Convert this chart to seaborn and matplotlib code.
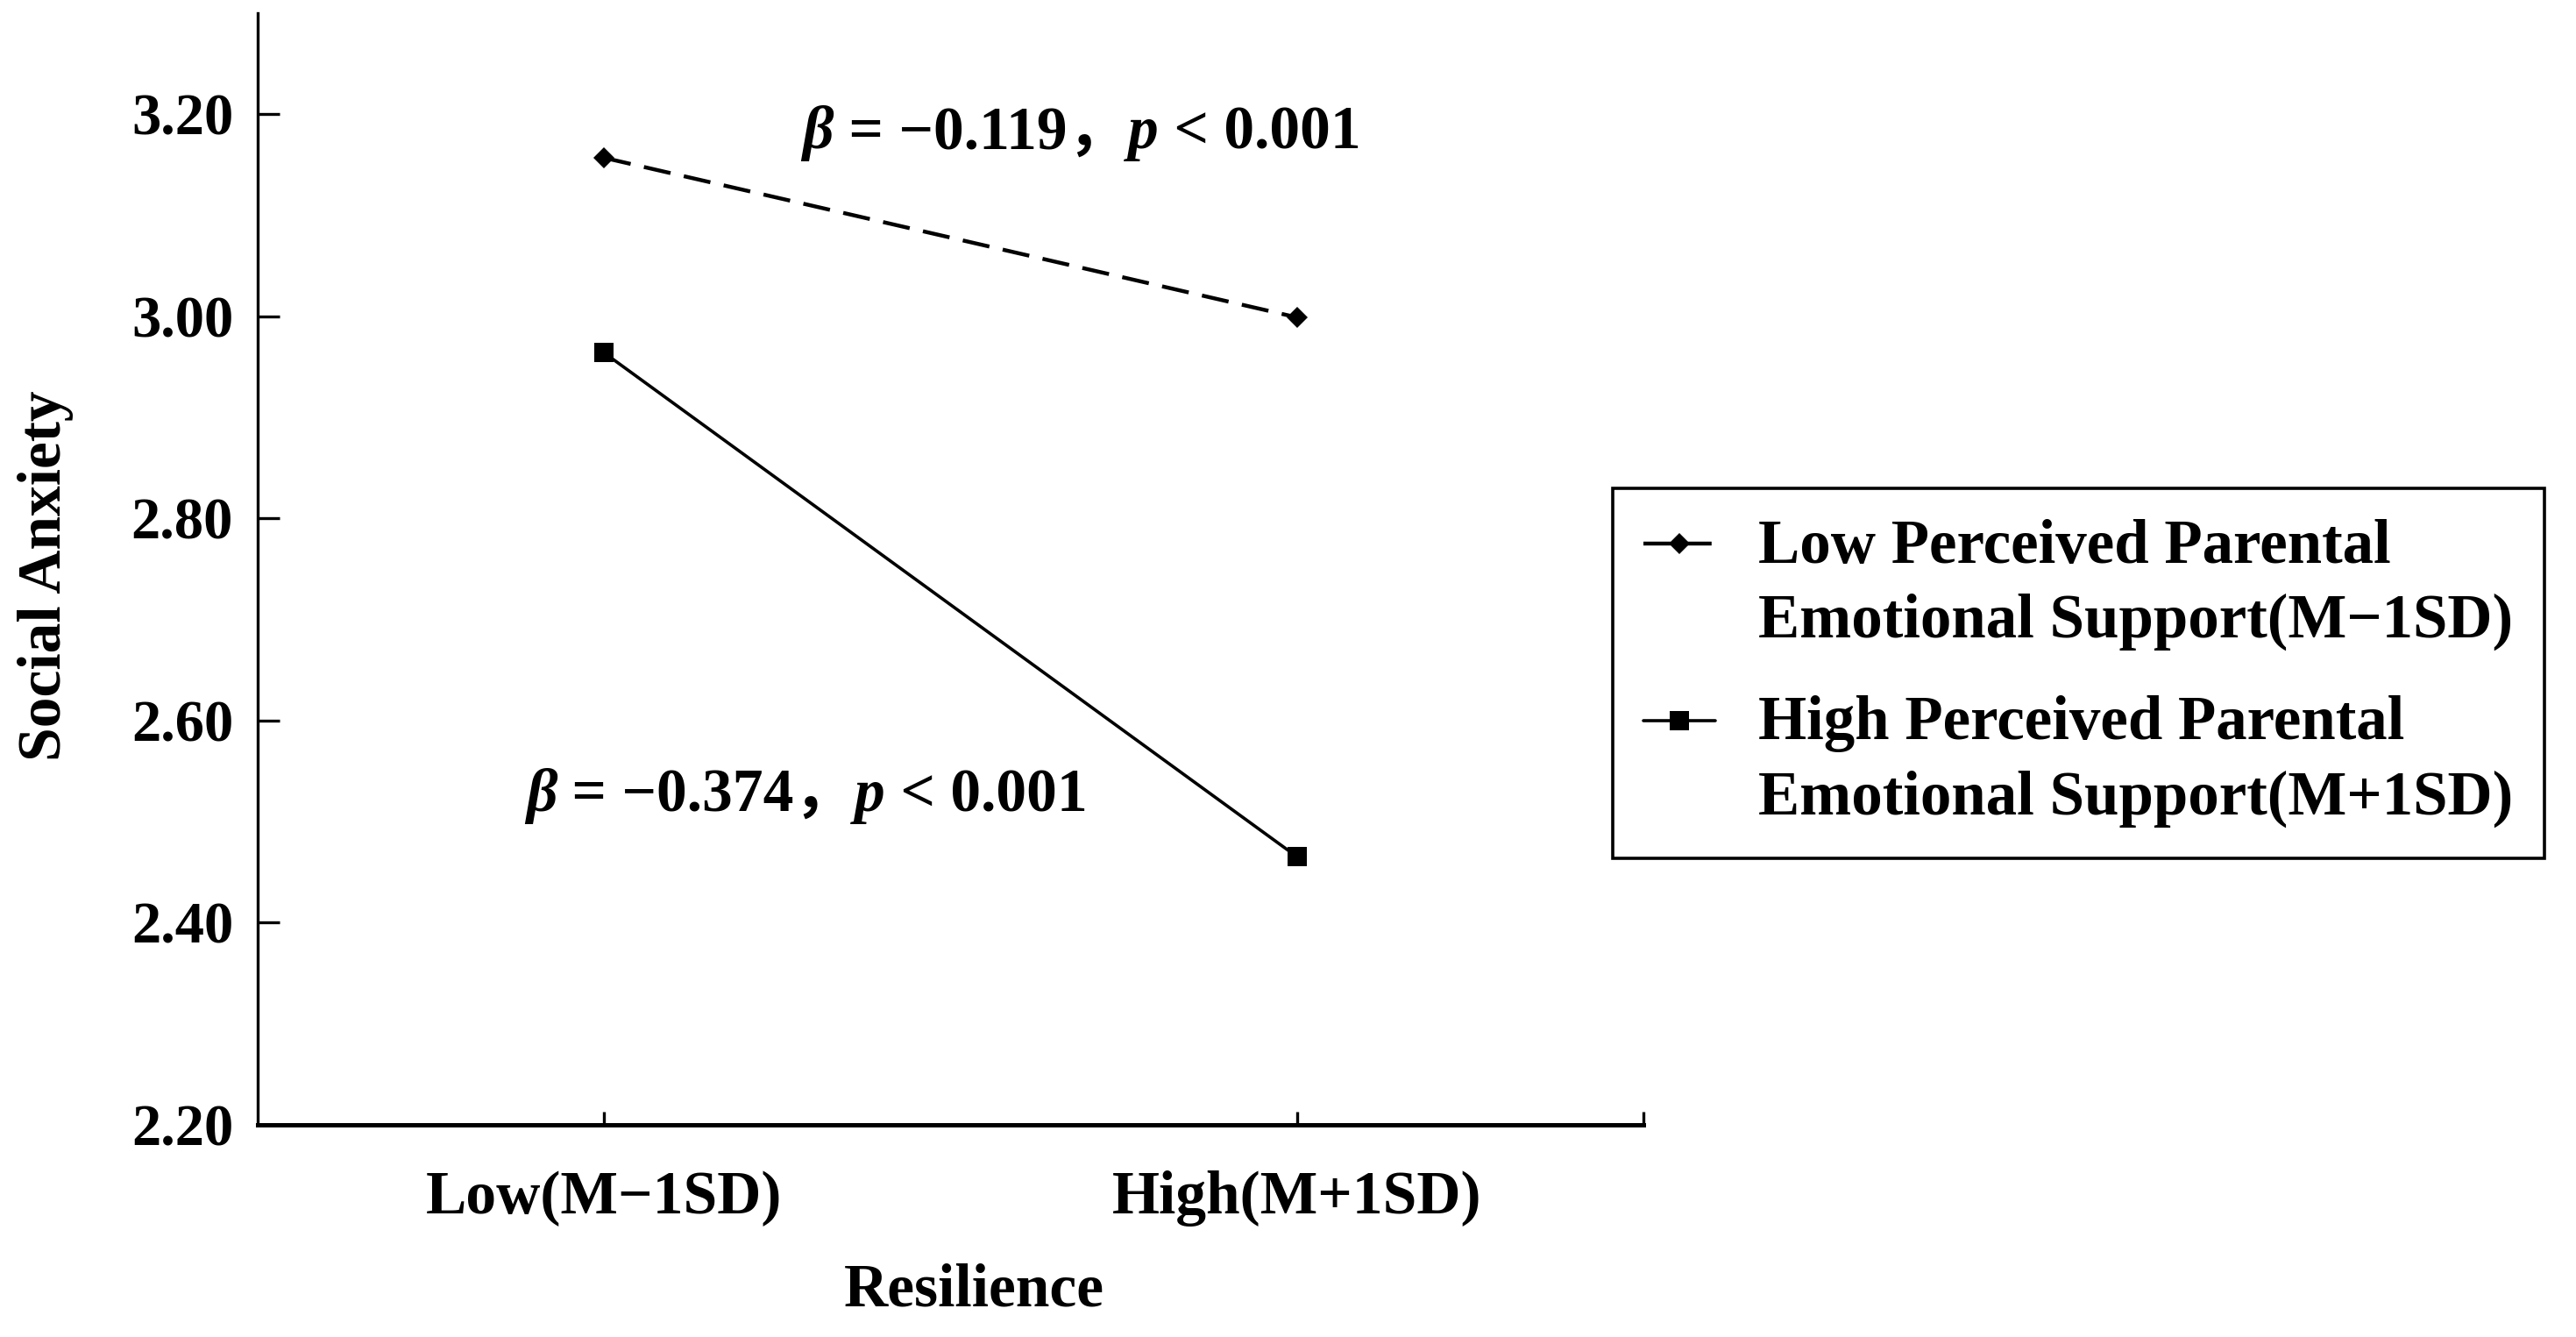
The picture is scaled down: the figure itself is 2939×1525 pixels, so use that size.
import matplotlib
matplotlib.use('Agg')
import pandas as pd
import matplotlib.pyplot as plt
import seaborn as sns
from matplotlib.offsetbox import TextArea, HPacker, AnnotationBbox
from matplotlib.legend_handler import HandlerLine2D

# data
resilience = ['Low(M−1SD)', 'High(M+1SD)']
groups = ['Low Perceived Parental\nEmotional Support(M−1SD)',
          'High Perceived Parental\nEmotional Support(M+1SD)']
low_support = [3.157, 2.999]
high_support = [2.964, 2.465]
y_ticks = [2.20, 2.40, 2.60, 2.80, 3.00, 3.20]
betas = ['−0.119', '−0.374']
p_values = ['0.001', '0.001']

df = pd.DataFrame({
    'Resilience': resilience * 2,
    'Social Anxiety': low_support + high_support,
    'Support': [groups[0]] * 2 + [groups[1]] * 2,
})

sns.set_theme(style='ticks')
plt.rcParams['font.family'] = ['Liberation Serif', 'Noto Sans CJK SC']
plt.rcParams['font.weight'] = 'bold'
for key in ['text.color', 'axes.labelcolor', 'xtick.color', 'ytick.color', 'axes.edgecolor']:
    plt.rcParams[key] = 'black'
FS = 50


class FirstLineHandler(HandlerLine2D):
    # puts the legend key next to the first line of a two-line label
    def __init__(self, shift, **kw):
        super().__init__(**kw)
        self.shift = shift

    def create_artists(self, legend, orig_handle, xdescent, ydescent,
                       width, height, fontsize, trans):
        return super().create_artists(legend, orig_handle, xdescent,
                                      ydescent - 2 * self.shift,
                                      width, height, fontsize, trans)


fig = plt.figure(figsize=(29.39, 15.25), dpi=100)
ax = fig.add_axes([0.100, 0.159, 0.538, 0.831])

sns.lineplot(data=df, x='Resilience', y='Social Anxiety', hue='Support', style='Support',
             palette={groups[0]: 'black', groups[1]: 'black'},
             markers={groups[0]: 'D', groups[1]: 's'},
             dashes={groups[0]: (7, 3.5), groups[1]: ''},
             linewidth=2.6, markeredgewidth=0, ax=ax)

for line in ax.lines:
    if line.get_marker() == 'D':
        line.set_markersize(12)
        line.set_linewidth(3.2)
    elif line.get_marker() == 's':
        line.set_markersize(16)

ax.set_xlim(-0.5, 1.5)
ax.set_ylim(2.20, 3.30)
ax.set_yticks(y_ticks)
ax.set_yticklabels([f'{v:.2f}' for v in y_ticks])
ax.set_xticks([0, 1, 1.5])
ax.set_xticklabels(resilience + [''])
for lab in ax.get_xticklabels():
    lab.set_fontsize(FS)
    lab.set_fontweight('bold')
for lab in ax.get_yticklabels():
    lab.set_fontsize(48)
    lab.set_fontweight('bold')

ax.tick_params(axis='y', direction='in', length=18, width=2.4, pad=20)
ax.tick_params(axis='x', direction='in', length=11, width=2.4, pad=38)
sns.despine(ax=ax)
ax.spines['left'].set_linewidth(2.4)
ax.spines['bottom'].set_linewidth(3.6)

ax.set_xlabel('Resilience', fontsize=FS, fontweight='bold')
ax.set_ylabel('Social Anxiety', fontsize=FS, fontweight='bold')
ax.xaxis.set_label_coords(0.517, -0.125)
ax.yaxis.set_label_coords(-0.133, 0.494)

# slope annotations with italic beta and p
def slope_label(beta, p):
    norm = dict(fontsize=FS, fontweight='bold', color='black')
    ital = dict(fontsize=FS, fontweight='bold', fontstyle='italic', color='black')
    parts = [TextArea('β', textprops=ital),
             TextArea(' = ' + beta + '，', textprops=norm),
             TextArea('p', textprops=ital),
             TextArea(' < ' + p, textprops=norm)]
    return HPacker(children=parts, align='baseline', pad=0, sep=0)

positions = [(0.286, 3.181), (-0.113, 2.525)]
for (bx, by), b, p in zip(positions, betas, p_values):
    ab = AnnotationBbox(slope_label(b, p), (bx, by), xycoords='data',
                        box_alignment=(0, 0.5), frameon=False, pad=0)
    ax.add_artist(ab)

old = ax.get_legend()
handles = list(old.legend_handles)
labels = [t.get_text() for t in old.get_texts()]
old.remove()
for h in handles:
    h.set_color('black')
    if h.get_marker() == 'D':
        h.set_markersize(12)
        h.set_linewidth(3.2)
    else:
        h.set_markersize(16)
        h.set_linewidth(2.6)

leg = fig.legend(handles, labels, loc='upper left', bbox_to_anchor=(0.626, 0.635),
                 fontsize=51, frameon=True, fancybox=False, edgecolor='black',
                 framealpha=1, borderaxespad=0, handlelength=1.15, handletextpad=0.7,
                 borderpad=0.5, labelspacing=0.72,
                 handler_map={h: FirstLineHandler(34) for h in handles})
leg.get_frame().set_linewidth(2.6)
for t in leg.get_texts():
    t.set_fontweight('bold')
    t.set_linespacing(1.4)

fig.savefig('out.png', dpi=100, facecolor='white')
